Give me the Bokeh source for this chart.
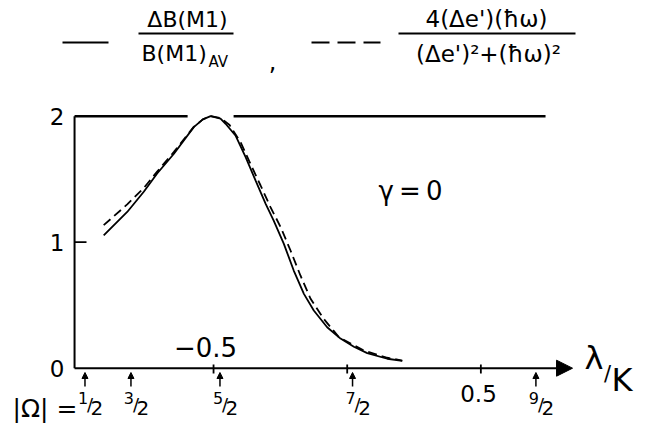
from bokeh.plotting import figure
from bokeh.models import Range1d, Label, Arrow, NormalHead, ColumnDataSource
from bokeh.core.properties import value
from bokeh.embed import file_html
from bokeh.resources import INLINE

# ---------------- data ----------------
lam_solid = [-0.911, -0.823, -0.761, -0.711, -0.649, -0.574, -0.540, -0.511, -0.474, -0.455,
             -0.418, -0.380, -0.343, -0.305, -0.275, -0.237, -0.200, -0.162, -0.125,
             -0.075, -0.025, 0.025, 0.075, 0.150, 0.206]
val_solid = [1.055, 1.240, 1.400, 1.545, 1.700, 1.913, 1.975, 2.000, 1.980, 1.940,
             1.847, 1.675, 1.490, 1.305, 1.172, 0.987, 0.775, 0.590, 0.458,
             0.325, 0.235, 0.170, 0.120, 0.075, 0.058]

lam_dashed = [-0.911, -0.823, -0.761, -0.711, -0.649, -0.574, -0.540, -0.511, -0.474, -0.440,
              -0.399, -0.362, -0.324, -0.287, -0.249, -0.212, -0.175, -0.137, -0.088,
              -0.031, 0.062, 0.150, 0.206]
val_dashed = [1.135, 1.300, 1.430, 1.560, 1.715, 1.915, 1.975, 2.000, 1.985, 1.930,
              1.794, 1.622, 1.450, 1.278, 1.120, 0.934, 0.736, 0.551, 0.392,
              0.246, 0.140, 0.083, 0.061]

x_ticks = [-0.5, 0.0, 0.5]
y_ticks = [0, 1, 2]
y_tick_labels = ["0", "1", "2"]

omega_pos = [-0.981, -0.809, -0.476, 0.020, 0.706]
omega_num = ["1", "3", "5", "7", "9"]
omega_den = ["2", "2", "2", "2", "2"]

limit_start = [-1.02, -0.425]
limit_end = [-0.597, 0.742]
limit_level = [2.0, 2.0]

AXIS_X = -1.02
AXIS_END = 0.843

# ---------------- layout helpers (picture pixels -> data) ----------------
X0, SX = 346.7, 267.3
Y0, SY = 367.7, 126.0
W, H = 647, 427


def dx(px):
    return (px - X0) / SX


def dy(py):
    return (Y0 - py) / SY


FONT = "DejaVu Sans"
INK = "black"

p = figure(width=W, height=H, output_backend="svg", toolbar_location=None,
           x_range=Range1d(dx(0), dx(W)), y_range=Range1d(dy(H), dy(0)),
           x_axis_location=None, y_axis_location=None, min_border=0,
           background_fill_color="white", border_fill_color="white")
p.outline_line_color = None
p.grid.visible = False


def label(x, base_py, text, size, align="left"):
    s = float(size.replace("px", ""))
    p.add_layout(Label(x=x, y=dy(base_py - 0.4 * s), text=text, text_font=FONT,
                       text_font_size=size, text_align=align, text_baseline="alphabetic",
                       text_color=INK))


def gbase(base_py, size):
    return dy(base_py - 0.37 * size)


# axes
p.line([AXIS_X, AXIS_X], [0, 2.0], line_color=INK, line_width=2)
p.add_layout(Arrow(end=NormalHead(size=16, fill_color=INK, line_color=INK, line_width=1),
                   x_start=AXIS_X, y_start=0, x_end=AXIS_END, y_end=0,
                   line_color=INK, line_width=2))
# x ticks (crossing)
p.segment(x0=x_ticks, y0=[dy(364)] * 3, x1=x_ticks, y1=[dy(373)] * 3,
          line_color=INK, line_width=1.8)
# y tick at 1
p.segment(x0=[AXIS_X], y0=[1], x1=[dx(86)], y1=[1], line_color=INK, line_width=1.8)

# limit line at 2
p.segment(x0=limit_start, y0=limit_level, x1=limit_end, y1=limit_level,
          line_color=INK, line_width=2.5)

# curves
p.line(lam_solid, val_solid, line_color=INK, line_width=1.8)
p.line(lam_dashed, val_dashed, line_color=INK, line_width=1.8, line_dash="9 5")

# y tick labels
p.text(x=[dx(64)] * 3, y=y_ticks, text=y_tick_labels, text_font=value(FONT),
       text_font_size="23px", text_align="right", text_baseline="middle", text_color=INK)

# x tick labels
label(dx(205), 357, "\u22120.5", "26px", "center")
label(dx(478), 402, "0.5", "23px", "center")

# Omega arrows and labels
src = ColumnDataSource(dict(x=omega_pos, y0=[dy(386)] * 5, y1=[dy(372)] * 5))
p.add_layout(Arrow(end=NormalHead(size=6, fill_color=INK, line_color=INK, line_width=1),
                   x_start="x", y_start="y0", x_end="x", y_end="y1", source=src,
                   line_color=INK, line_width=1.5))
p.text(x=omega_pos, y=[gbase(403, 16)] * 5, text=omega_num, x_offset=-2, text_font=value(FONT),
       text_font_size="16px", text_align="center", text_baseline="alphabetic", text_color=INK)
p.text(x=omega_pos, y=[gbase(411, 18)] * 5, text=["/"] * 5, x_offset=5, text_font=value(FONT),
       text_font_size="18px", text_align="center", text_baseline="alphabetic", text_color=INK)
p.text(x=omega_pos, y=[gbase(415, 20)] * 5, text=omega_den, x_offset=12, text_font=value(FONT),
       text_font_size="20px", text_align="center", text_baseline="alphabetic", text_color=INK)
label(dx(12), 418, "|\u03a9| =", "25px")

# axis title lambda/K
label(dx(584), 370, "\u03bb", "32px")
label(dx(607), 382, "/", "21px", "center")
label(dx(611), 392, "K", "32px")

# gamma label
label(dx(378), 201, "\u03b3\u2009=\u20090", "26px")

# legend / title formulas
p.segment(x0=[dx(62)], y0=[dy(42)], x1=[dx(108)], y1=[dy(42)], line_color=INK, line_width=2)
p.segment(x0=[dx(311)], y0=[dy(42)], x1=[dx(380)], y1=[dy(42)], line_color=INK,
          line_width=2, line_dash="18 8")
p.segment(x0=[dx(138), dx(398)], y0=[dy(33), dy(33)], x1=[dx(233), dx(575)], y1=[dy(33), dy(33)],
          line_color=INK, line_width=2)
label(dx(187), 28, "\u0394B(M1)", "22px", "center")
label(dx(141), 62, "B(M1)", "22px")
label(dx(208), 67, "AV", "15px")
label(dx(272), 70, ",", "24px", "center")
label(dx(486), 28, "4(\u0394e')(\u0127\u03c9)", "23px", "center")
label(dx(488), 63, "(\u0394e')\u00b2+(\u0127\u03c9)\u00b2", "23px", "center")

open("out.html", "w").write(file_html(p, INLINE))
